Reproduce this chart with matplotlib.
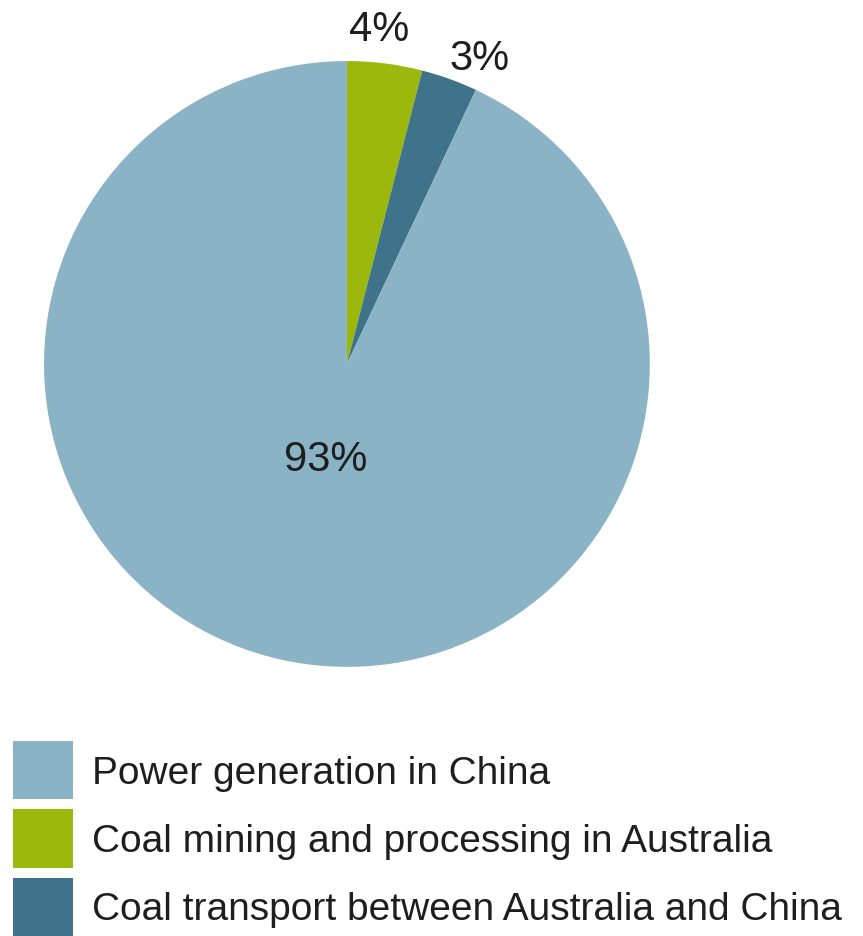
import numpy as np
import matplotlib.pyplot as plt
from matplotlib.patches import Patch

# data
slice_names = ["Coal mining and processing in Australia",
               "Coal transport between Australia and China",
               "Power generation in China"]
shares = [4, 3, 93]
legend_order = ["Power generation in China",
                "Coal mining and processing in Australia",
                "Coal transport between Australia and China"]

colors = {"Power generation in China": "#8ab3c6",
          "Coal mining and processing in Australia": "#9cb80c",
          "Coal transport between Australia and China": "#3f7389"}

plt.rcParams['font.family'] = ['Liberation Sans', 'DejaVu Sans']

fig = plt.figure(figsize=(8.63, 9.37), dpi=100)
ax = fig.add_axes([0.051, 0.287, 0.702, 0.647])

wedges, texts = ax.pie(shares, colors=[colors[n] for n in slice_names],
                       startangle=90, counterclock=False,
                       labels=[f"{v}%" for v in shares], labeldistance=1.1,
                       textprops=dict(fontsize=30, color="#1e1e1e"))
for t in texts:
    t.set_ha("center")
    t.set_va("center")
# nudge the small slice labels like the original (angle, distance)
for t, (ang, dist) in zip(texts[:2], [(84.5, 1.11), (66.5, 1.10)]):
    a = np.deg2rad(ang)
    t.set_position((dist * np.cos(a), dist * np.sin(a)))
# the big slice label sits inside
big = texts[2]
x, y = big.get_position()
big.set_position((x * 0.32 / 1.1, y * 0.32 / 1.1))
ax.set_aspect("equal")
ax.set_xlim(-1, 1)
ax.set_ylim(-1, 1)

handles = [Patch(facecolor=colors[n], edgecolor="none") for n in legend_order]
leg = fig.legend(handles, legend_order, loc="upper left",
                 bbox_to_anchor=(13 / 863, 1 - 742 / 937),
                 frameon=False, fontsize=28, handlelength=1.54, handleheight=1.93,
                 handletextpad=0.49, labelspacing=0.26, borderpad=0, borderaxespad=0)
for t in leg.get_texts():
    t.set_color("#1e1e1e")

fig.savefig("out.png", dpi=100, facecolor="white")
